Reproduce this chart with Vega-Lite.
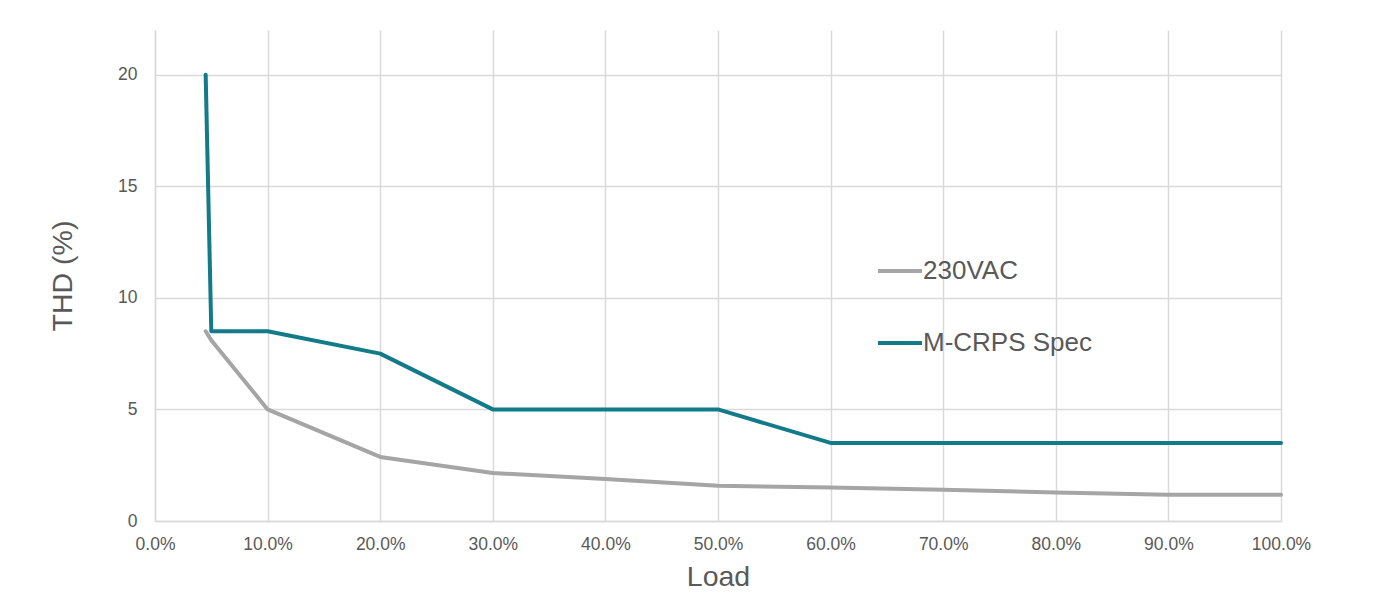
{
  "$schema": "https://vega.github.io/schema/vega-lite/v6.json",
  "width": 1126,
  "height": 491,
  "autosize": {"type": "none"},
  "padding": {"left": 155, "top": 30, "right": 108, "bottom": 87},
  "background": "white",
  "config": {
    "view": {"stroke": null},
    "font": "Liberation Sans",
    "axis": {
      "labelFont": "Liberation Sans",
      "titleFont": "Liberation Sans",
      "labelColor": "#595959",
      "titleColor": "#595959",
      "labelFontSize": 17.5,
      "titleFontSize": 28.5,
      "titleFontWeight": "normal",
      "gridColor": "#d9d9d9",
      "gridWidth": 1.5,
      "domainColor": "#d9d9d9",
      "domainWidth": 1.5,
      "ticks": false
    }
  },
  "data": {
    "values": [
      {"load": 0.045, "thd": 8.5, "series": "230VAC"},
      {"load": 0.05, "thd": 8.1, "series": "230VAC"},
      {"load": 0.10, "thd": 5.0, "series": "230VAC"},
      {"load": 0.20, "thd": 2.87, "series": "230VAC"},
      {"load": 0.30, "thd": 2.15, "series": "230VAC"},
      {"load": 0.40, "thd": 1.88, "series": "230VAC"},
      {"load": 0.50, "thd": 1.58, "series": "230VAC"},
      {"load": 0.60, "thd": 1.5, "series": "230VAC"},
      {"load": 0.70, "thd": 1.4, "series": "230VAC"},
      {"load": 0.80, "thd": 1.28, "series": "230VAC"},
      {"load": 0.90, "thd": 1.18, "series": "230VAC"},
      {"load": 1.00, "thd": 1.18, "series": "230VAC"},
      {"load": 0.045, "thd": 20, "series": "M-CRPS Spec"},
      {"load": 0.05, "thd": 8.5, "series": "M-CRPS Spec"},
      {"load": 0.10, "thd": 8.5, "series": "M-CRPS Spec"},
      {"load": 0.20, "thd": 7.5, "series": "M-CRPS Spec"},
      {"load": 0.30, "thd": 5.0, "series": "M-CRPS Spec"},
      {"load": 0.50, "thd": 5.0, "series": "M-CRPS Spec"},
      {"load": 0.60, "thd": 3.5, "series": "M-CRPS Spec"},
      {"load": 1.00, "thd": 3.5, "series": "M-CRPS Spec"}
    ]
  },
  "mark": {"type": "line", "strokeWidth": 4, "strokeCap": "round", "strokeJoin": "round"},
  "encoding": {
    "x": {
      "field": "load",
      "type": "quantitative",
      "title": "Load",
      "scale": {"domain": [0, 1], "nice": false},
      "axis": {
        "values": [0, 0.1, 0.2, 0.3, 0.4, 0.5, 0.6, 0.7, 0.8, 0.9, 1.0],
        "format": ".1%",
        "labelPadding": 14,
        "titlePadding": 10,
        "labelFlush": false
      }
    },
    "y": {
      "field": "thd",
      "type": "quantitative",
      "title": "THD (%)",
      "scale": {"domain": [0, 22], "nice": false},
      "axis": {
        "values": [0, 5, 10, 15, 20],
        "labelPadding": 18,
        "titlePadding": 40
      }
    },
    "color": {
      "field": "series",
      "type": "nominal",
      "scale": {"domain": ["230VAC", "M-CRPS Spec"], "range": ["#a5a5a5", "#137a8a"]},
      "legend": {
        "title": null,
        "orient": "none",
        "legendX": 721,
        "legendY": 217,
        "symbolType": "stroke",
        "symbolSize": 1936,
        "symbolStrokeWidth": 4,
        "labelFontSize": 26,
        "labelLimit": 400,
        "labelColor": "#595959",
        "labelFont": "Liberation Sans",
        "labelOffset": -1,
        "rowPadding": 35
      }
    }
  }
}
